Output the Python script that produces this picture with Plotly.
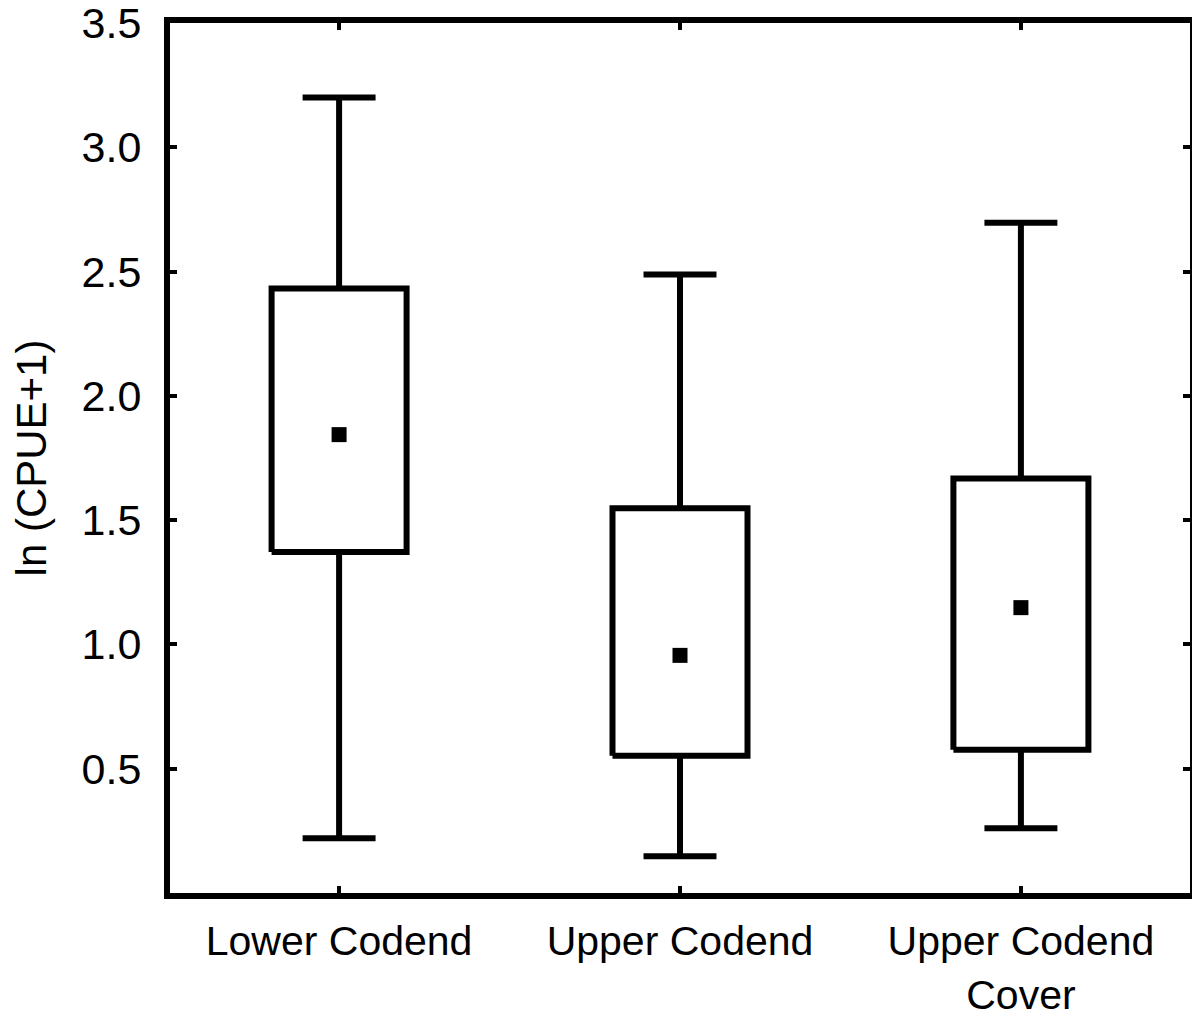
import plotly.graph_objects as go

categories = ["Lower Codend", "Upper Codend", "Upper Codend<br>Cover"]
whisker_min = [0.22, 0.148, 0.26]
q1 = [1.372, 0.552, 0.576]
center = [1.844, 0.956, 1.148]
q3 = [2.432, 1.548, 1.668]
whisker_max = [3.2, 2.488, 2.696]

positions = list(range(len(categories)))
box_half = 0.198
cap_half = 0.107

fig = go.Figure()

line_style = dict(color="black", width=6)

for i, p in enumerate(positions):
    # box outline
    fig.add_trace(go.Scatter(
        x=[p - box_half, p + box_half, p + box_half, p - box_half, p - box_half],
        y=[q1[i], q1[i], q3[i], q3[i], q1[i]],
        mode="lines", line=line_style, showlegend=False, hoverinfo="skip"))
    # whiskers + caps
    fig.add_trace(go.Scatter(
        x=[p, p, None, p - cap_half, p + cap_half, None, p, p, None, p - cap_half, p + cap_half],
        y=[q3[i], whisker_max[i], None, whisker_max[i], whisker_max[i], None,
           q1[i], whisker_min[i], None, whisker_min[i], whisker_min[i]],
        mode="lines", line=line_style, showlegend=False, hoverinfo="skip"))

fig.add_trace(go.Scatter(
    x=positions, y=center, mode="markers",
    marker=dict(symbol="square", size=15, color="black"),
    showlegend=False))

font_family = "Liberation Sans, Arial, sans-serif"

fig.update_layout(
    width=1200, height=1014,
    margin=dict(l=162, r=18, t=15, b=129),
    paper_bgcolor="white", plot_bgcolor="white",
    font=dict(family=font_family, color="black"),
)

fig.update_xaxes(
    range=[-0.496, 2.496], automargin=False,
    tickvals=positions, ticktext=categories,
    tickfont=dict(size=41),
    showline=True, linewidth=6, linecolor="black", mirror="ticks",
    ticks="inside", ticklen=7, tickwidth=4, tickcolor="black",
    showgrid=False, zeroline=False, ticklabelstandoff=7,
    ticklabeloverflow="allow",
)
fig.update_yaxes(
    range=[0, 3.5], automargin=False,
    tickvals=[0.5, 1.0, 1.5, 2.0, 2.5, 3.0, 3.5],
    ticktext=["0.5", "1.0", "1.5", "2.0", "2.5", "3.0", "3.5"],
    tickfont=dict(size=43),
    showline=True, linewidth=6, linecolor="black", mirror="ticks",
    ticks="inside", ticklen=7, tickwidth=4, tickcolor="black",
    showgrid=False, zeroline=False, ticklabelstandoff=14,
    ticklabeloverflow="allow",
    title=dict(text="ln (CPUE+1)", font=dict(size=42), standoff=29),
)

fig.write_html("out.html")
